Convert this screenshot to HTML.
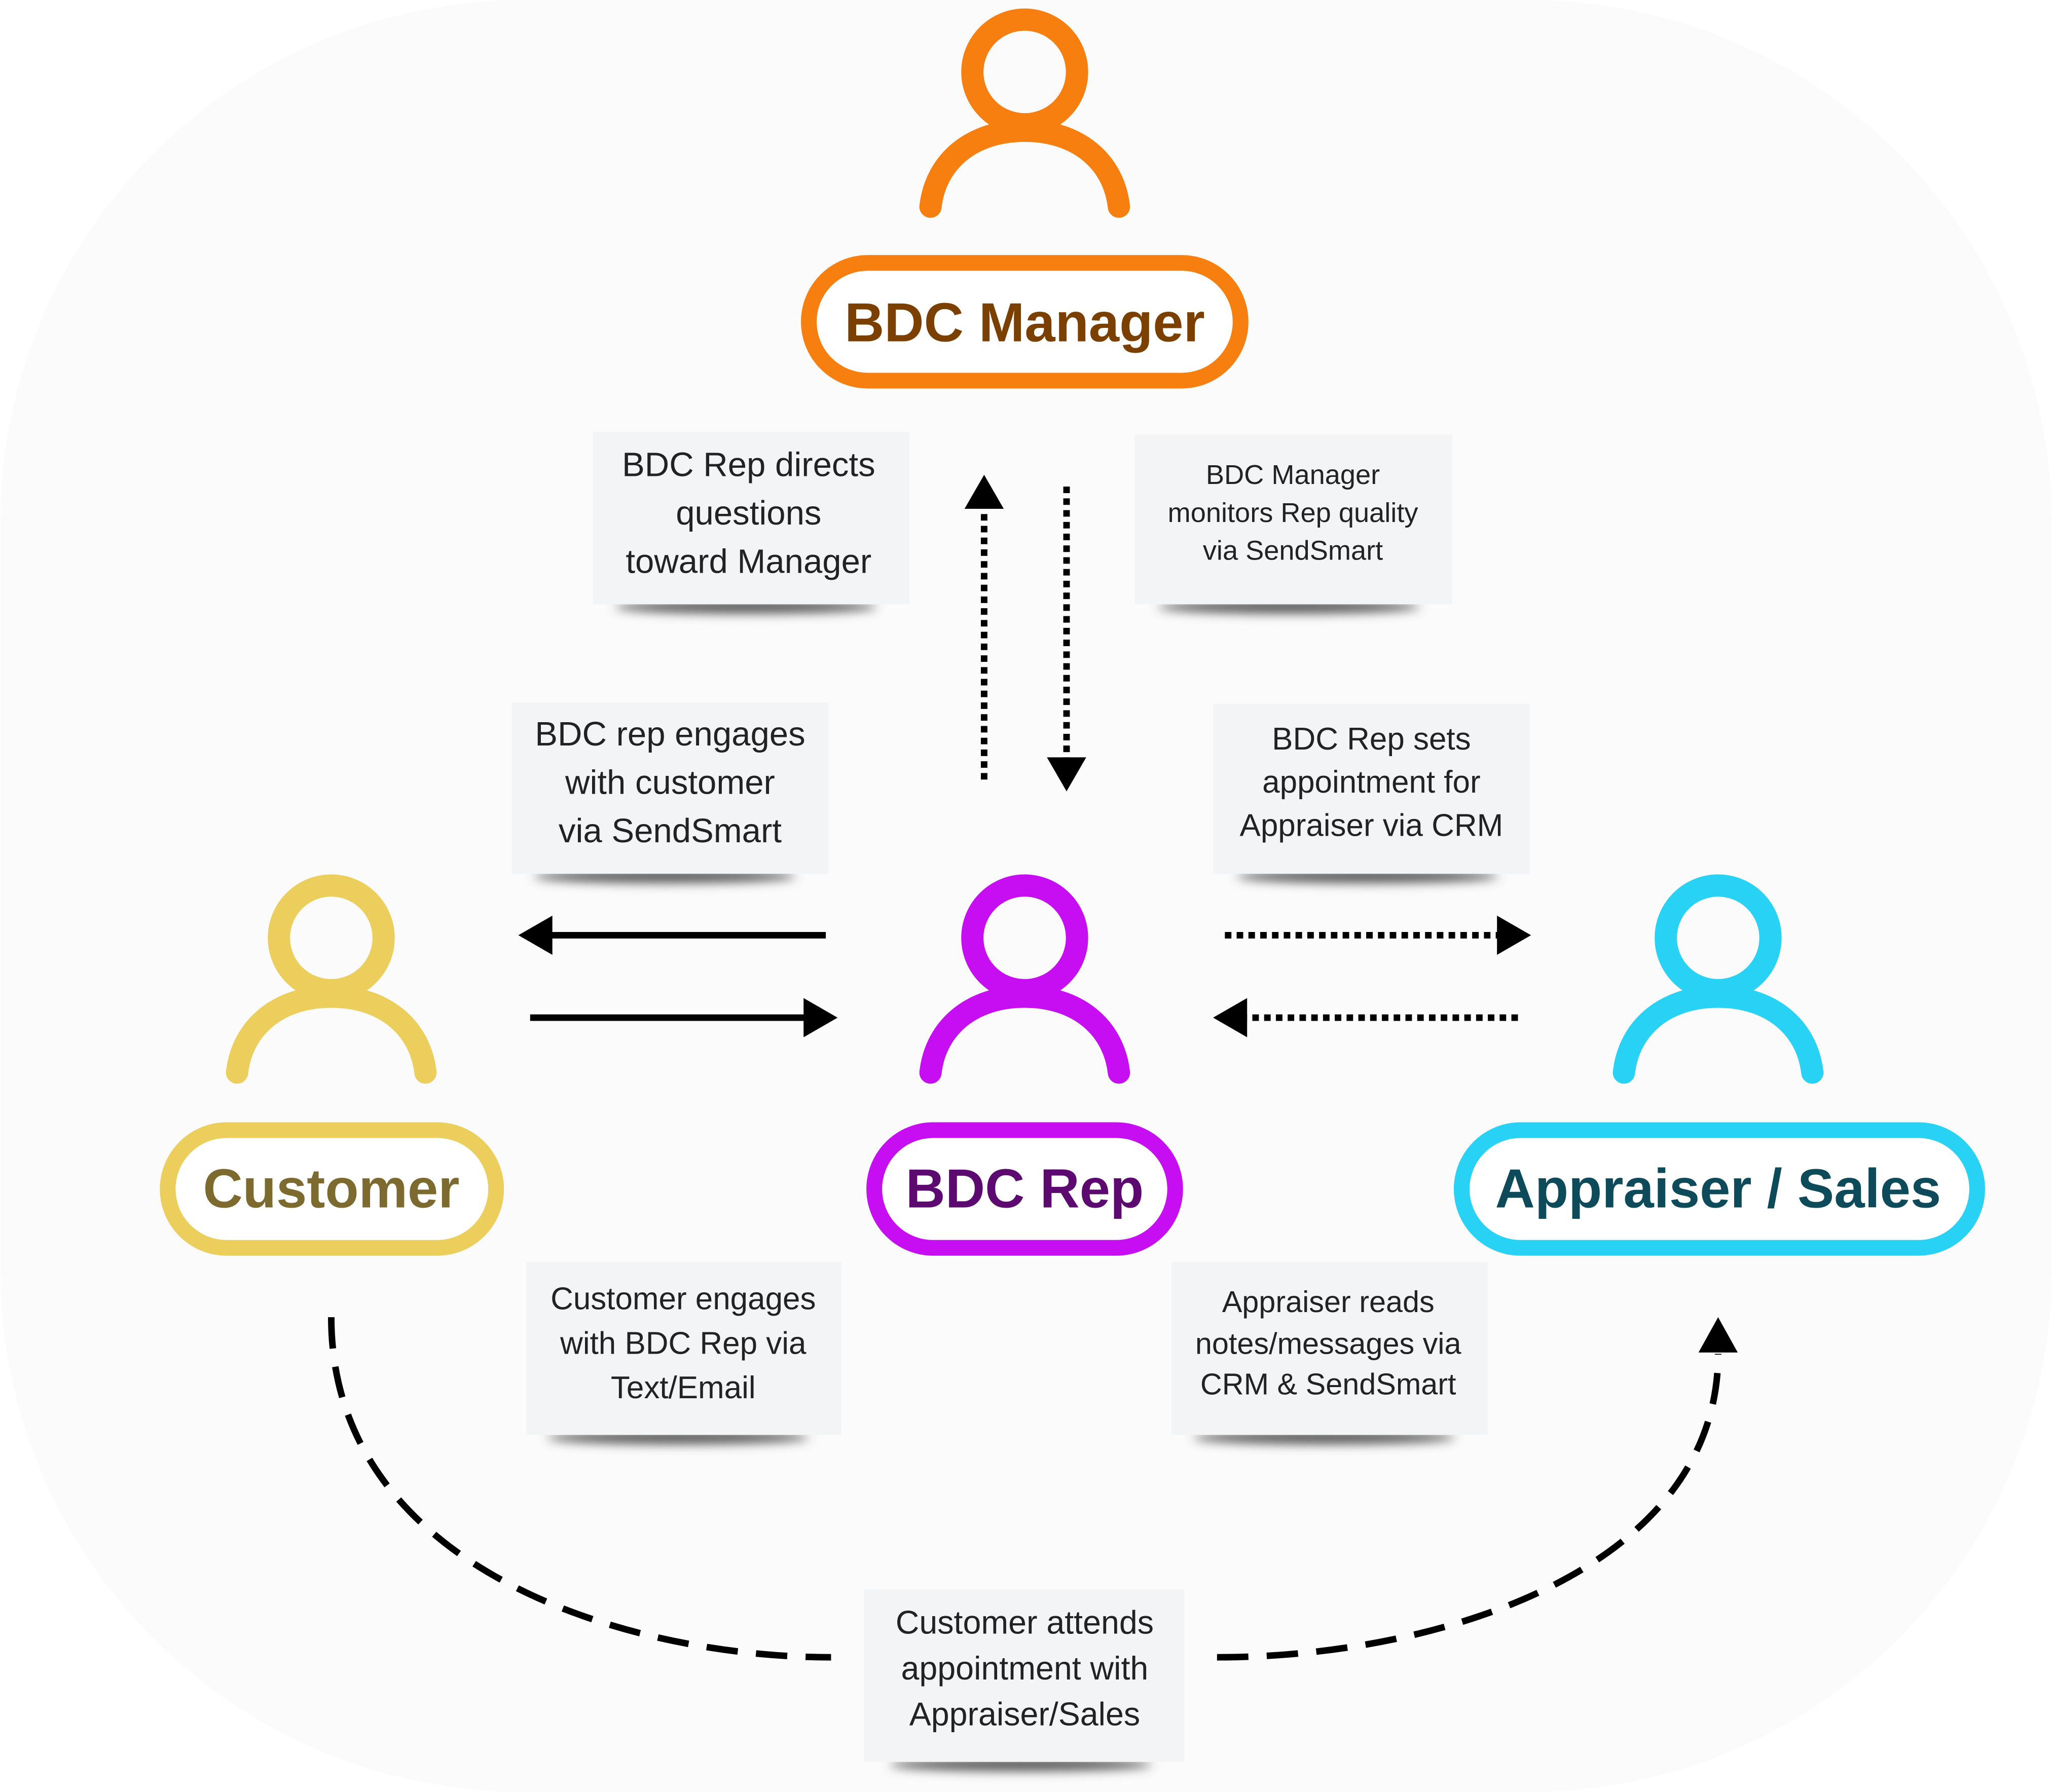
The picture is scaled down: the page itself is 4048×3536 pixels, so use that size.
<!DOCTYPE html>
<html><head><meta charset="utf-8"><style>
html,body{margin:0;padding:0;background:#fff;}
svg{display:block;}
</style></head><body>
<svg width="4048" height="3536" viewBox="0 0 1568 1370" xmlns="http://www.w3.org/2000/svg">
<defs>
<filter id="sh" x="-20%" y="-200%" width="140%" height="500%"><feGaussianBlur stdDeviation="4"/></filter>
<g id="person">
<circle cx="0" cy="0" r="40" fill="none" stroke-width="17"/>
<path d="M-72,103 C-68,68 -40,45 0,45 C40,45 68,68 72,103" fill="none" stroke-width="17" stroke-linecap="round"/>
</g>
</defs>
<rect width="1568" height="1370" fill="#fff"/>
<rect x="0" y="0" width="1568" height="1370" rx="400" ry="400" fill="#fbfbfb"/>

<!-- Manager -->
<g stroke="#f77f0f"><use href="#person" x="783" y="55"/></g>
<rect x="618" y="201" width="330" height="90" rx="45" fill="#fff" stroke="#f77f0f" stroke-width="12"/>
<text x="783" y="261" text-anchor="middle" font-family="Liberation Sans, sans-serif" font-weight="bold" font-size="42" fill="#7b3f00">BDC Manager</text>

<!-- Customer -->
<g stroke="#ecce5d"><use href="#person" x="253" y="717"/></g>
<rect x="128" y="864" width="251" height="90" rx="45" fill="#fff" stroke="#ecce5d" stroke-width="12"/>
<text x="253" y="923" text-anchor="middle" font-family="Liberation Sans, sans-serif" font-weight="bold" font-size="42" fill="#7d6a2f">Customer</text>

<!-- BDC Rep -->
<g stroke="#c70df2"><use href="#person" x="783" y="717"/></g>
<rect x="668" y="864" width="230" height="90" rx="45" fill="#fff" stroke="#c70df2" stroke-width="12"/>
<text x="783" y="923" text-anchor="middle" font-family="Liberation Sans, sans-serif" font-weight="bold" font-size="42" fill="#5c0a70">BDC Rep</text>

<!-- Appraiser -->
<g stroke="#28d2f5"><use href="#person" x="1313" y="717"/></g>
<rect x="1117" y="864" width="394" height="90" rx="45" fill="#fff" stroke="#28d2f5" stroke-width="12"/>
<text x="1313" y="923" text-anchor="middle" font-family="Liberation Sans, sans-serif" font-weight="bold" font-size="42" fill="#0d4a5a">Appraiser / Sales</text>

<!-- Notes -->
<g font-family="Liberation Sans, DejaVu Sans, sans-serif" fill="#222" text-anchor="middle">
  <g>
    <ellipse cx="570" cy="464" rx="100" ry="5" fill="#555" filter="url(#sh)"/>
    <rect x="453" y="330" width="242" height="132" fill="#f3f4f6"/>
    <text x="572" y="364" font-size="26">BDC Rep directs</text>
    <text x="572" y="401" font-size="26">questions</text>
    <text x="572" y="438" font-size="26">toward Manager</text>
  </g>
  <g>
    <ellipse cx="985" cy="464" rx="100" ry="5" fill="#555" filter="url(#sh)"/>
    <rect x="867" y="332" width="243" height="130" fill="#f3f4f6"/>
    <text x="988" y="370" font-size="21">BDC Manager</text>
    <text x="988" y="399" font-size="21">monitors Rep quality</text>
    <text x="988" y="428" font-size="21">via SendSmart</text>
  </g>
  <g>
    <ellipse cx="508" cy="670" rx="100" ry="5" fill="#555" filter="url(#sh)"/>
    <rect x="391" y="537" width="242" height="131" fill="#f3f4f6"/>
    <text x="512" y="570" font-size="26">BDC rep engages</text>
    <text x="512" y="607" font-size="26">with customer</text>
    <text x="512" y="644" font-size="26">via SendSmart</text>
  </g>
  <g>
    <ellipse cx="1045" cy="670" rx="100" ry="5" fill="#555" filter="url(#sh)"/>
    <rect x="927" y="538" width="242" height="130" fill="#f3f4f6"/>
    <text x="1048" y="573" font-size="24">BDC Rep sets</text>
    <text x="1048" y="606" font-size="24">appointment for</text>
    <text x="1048" y="639" font-size="24">Appraiser via CRM</text>
  </g>
  <g>
    <ellipse cx="518" cy="1099" rx="100" ry="5" fill="#555" filter="url(#sh)"/>
    <rect x="402" y="965" width="241" height="132" fill="#f3f4f6"/>
    <text x="522" y="1001" font-size="24">Customer engages</text>
    <text x="522" y="1035" font-size="24">with BDC Rep via</text>
    <text x="522" y="1069" font-size="24">Text/Email</text>
  </g>
  <g>
    <ellipse cx="1012" cy="1099" rx="100" ry="5" fill="#555" filter="url(#sh)"/>
    <rect x="895" y="965" width="242" height="132" fill="#f3f4f6"/>
    <text x="1015" y="1003" font-size="23">Appraiser reads</text>
    <text x="1015" y="1035" font-size="23">notes/messages via</text>
    <text x="1015" y="1066" font-size="23">CRM &amp; SendSmart</text>
  </g>
  <g>
    <ellipse cx="780" cy="1349" rx="100" ry="5" fill="#555" filter="url(#sh)"/>
    <rect x="660" y="1215" width="245" height="132" fill="#f3f4f6"/>
    <text x="783" y="1249" font-size="25">Customer attends</text>
    <text x="783" y="1284" font-size="25">appointment with</text>
    <text x="783" y="1319" font-size="25">Appraiser/Sales</text>
  </g>
</g>

<!-- Arrows -->
<g stroke="#000" fill="none">
  <line x1="752" y1="596" x2="752" y2="388" stroke-width="5" stroke-dasharray="5 4"/>
  <line x1="815" y1="372" x2="815" y2="580" stroke-width="5" stroke-dasharray="5 4"/>
  <line x1="631" y1="715" x2="418" y2="715" stroke-width="5"/>
  <line x1="405" y1="778" x2="618" y2="778" stroke-width="5"/>
  <line x1="936" y1="715" x2="1146" y2="715" stroke-width="5" stroke-dasharray="5 4"/>
  <line x1="1160" y1="778" x2="950" y2="778" stroke-width="5" stroke-dasharray="5 4"/>
  <path d="M253,1007 C253,1200 480,1267 635,1267" stroke-width="5" stroke-dasharray="24 14"/>
  <path d="M930,1267 C1100,1267 1313,1200 1313,1035" stroke-width="5" stroke-dasharray="24 14"/>
</g>
<g fill="#000">
  <polygon points="752,363 737,389 767,389"/>
  <polygon points="815,605 800,579 830,579"/>
  <polygon points="396,715 422,700 422,730"/>
  <polygon points="640,778 614,763 614,793"/>
  <polygon points="1170,715 1144,700 1144,730"/>
  <polygon points="927,778 953,763 953,793"/>
  <polygon points="1313,1007 1298,1034 1328,1034"/>
</g>
</svg>
</body></html>
